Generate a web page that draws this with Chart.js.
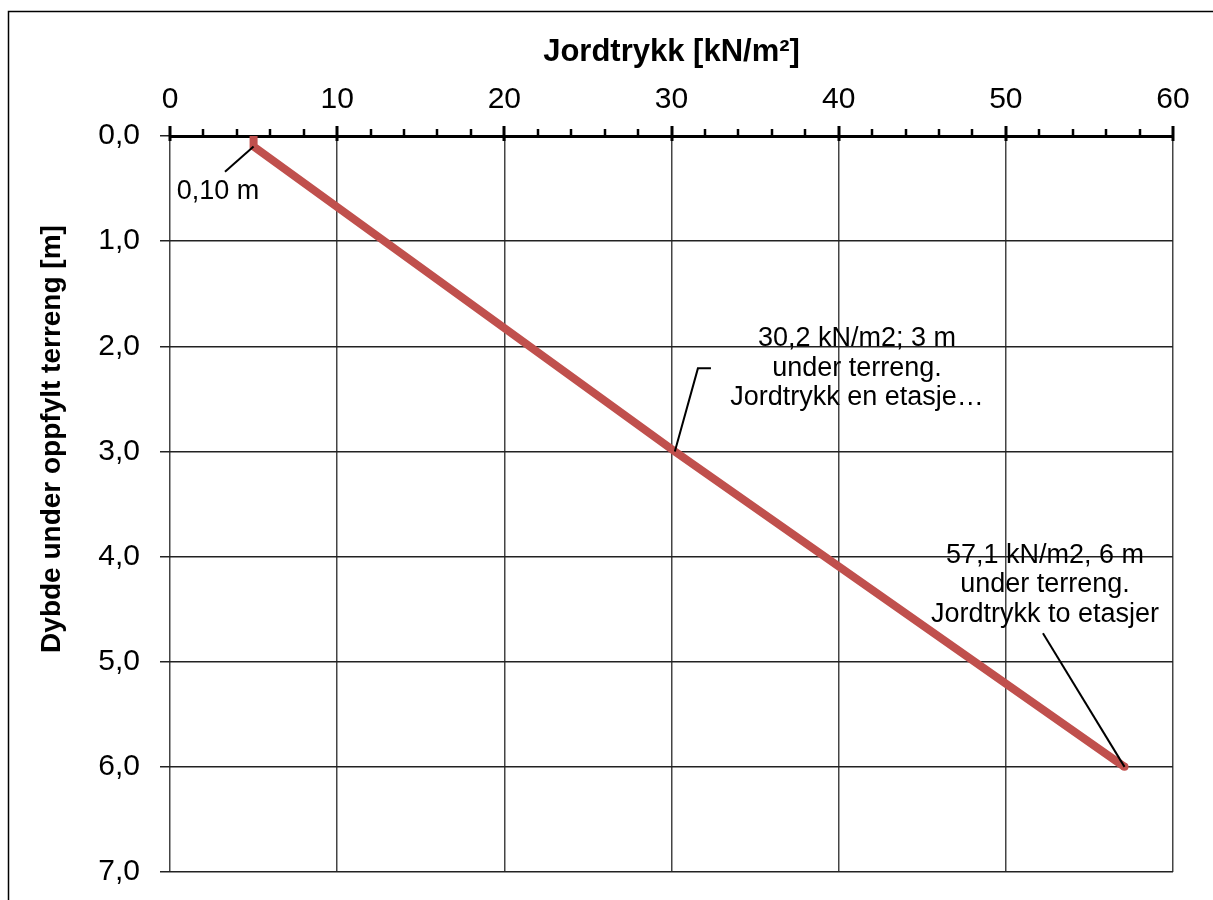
<!DOCTYPE html>
<html lang="no">
<head>
<meta charset="UTF-8">
<title>Jordtrykk</title>
<script src="https://cdn.jsdelivr.net/npm/chart.js"></script>
<style>
  html, body { margin: 0; padding: 0; background: #fff; }
  .wrap { position: relative; width: 1213px; height: 900px; }
</style>
</head>
<body>
<div class="wrap"><canvas id="c"></canvas></div>
<script>
// data
const depthM = [0, 0.1, 3, 6];
const pressureKN = [5, 5, 30.2, 57.1];
const xTicks = [0, 10, 20, 30, 40, 50, 60];
const yTicks = [0, 1, 2, 3, 4, 5, 6, 7];

// annotations: leader path from the line, text lines (data units)
const notes = [
  { lines: ['0,10 m'], tx: 2.87, ty: 0.53, path: [[5, 0.1], [3.29, 0.34]] },
  { lines: ['30,2 kN/m2; 3 m', 'under terreng.', 'Jordtrykk en etasje\u2026'], tx: 41.1, ty: 2.21,
    path: [[30.2, 3], [31.58, 2.21], [32.36, 2.21]] },
  { lines: ['57,1 kN/m2, 6 m', 'under terreng.', 'Jordtrykk to etasjer'], tx: 52.34, ty: 4.27,
    path: [[57.1, 6], [52.22, 4.73]] }
];

const FONT = '"Liberation Sans", Arial, sans-serif';

const extras = {
  id: 'extras',
  beforeDraw(chart) {
    const ctx = chart.ctx;
    ctx.save();
    ctx.strokeStyle = '#000';
    ctx.lineWidth = 1.5;
    ctx.strokeRect(8.5, 11.5, 1400, 1000);
    ctx.restore();
  },
  afterDraw(chart) {
    const ctx = chart.ctx;
    const xs = chart.scales.x, ys = chart.scales.y;
    const top = chart.chartArea.top;
    ctx.save();
    // tick marks on top axis
    ctx.strokeStyle = '#000';
    for (let v = xs.min; v <= xs.max; v += 2) {
      const px = Math.round(xs.getPixelForValue(v));
      const major = v % 10 === 0;
      ctx.lineWidth = major ? 3 : 2.5;
      ctx.beginPath();
      ctx.moveTo(px, top - (major ? 10 : 7));
      ctx.lineTo(px, top + (major ? 5 : 0));
      ctx.stroke();
    }
    // y title
    ctx.fillStyle = '#000';
    ctx.font = 'bold 28px ' + FONT;
    ctx.textAlign = 'center';
    ctx.textBaseline = 'middle';
    ctx.translate(52, 439);
    ctx.rotate(-Math.PI / 2);
    ctx.fillText('Dybde under oppfylt terreng [m]', 0, 0);
    ctx.restore();

    // annotations
    ctx.save();
    ctx.strokeStyle = '#000';
    ctx.lineWidth = 2;
    ctx.fillStyle = '#000';
    ctx.font = '27px ' + FONT;
    ctx.textAlign = 'center';
    ctx.textBaseline = 'middle';
    notes.forEach(n => {
      ctx.beginPath();
      n.path.forEach((p, i) => {
        const px = xs.getPixelForValue(p[0]), py = ys.getPixelForValue(p[1]);
        if (i === 0) ctx.moveTo(px, py); else ctx.lineTo(px, py);
      });
      ctx.stroke();
      const cx = xs.getPixelForValue(n.tx), cy = ys.getPixelForValue(n.ty);
      const lh = 29.5;
      const start = cy - (n.lines.length - 1) / 2 * lh;
      n.lines.forEach((t, i) => ctx.fillText(t, cx, start + i * lh));
    });
    ctx.restore();
  }
};

new Chart(document.getElementById('c').getContext('2d'), {
  type: 'scatter',
  data: {
    datasets: [{
      label: 'Jordtrykk',
      data: depthM.map((d, i) => ({ x: pressureKN[i], y: d })),
      showLine: true,
      borderColor: '#C0504D',
      backgroundColor: '#C0504D',
      borderWidth: 8,
      pointRadius: depthM.map((d, i) => i === depthM.length - 1 ? 4 : 0),
      pointBorderWidth: 0,
      pointHoverRadius: 0
    }]
  },
  options: {
    responsive: true,
    maintainAspectRatio: false,
    animation: false,
    layout: { padding: { left: 8, top: 0, right: 40, bottom: 28 } },
    plugins: { legend: { display: false }, tooltip: { enabled: false } },
    scales: {
      x: {
        type: 'linear',
        position: 'top',
        min: 0, max: 60,
        afterBuildTicks: s => { s.ticks = xTicks.map(v => ({ value: v })); },
        afterFit: s => { s.height = 136; s.paddingLeft = 0; s.paddingRight = 0; },
        grid: { color: '#444', lineWidth: 1.5, drawTicks: false },
        border: { display: true, color: '#000', width: 3 },
        ticks: { color: '#000', padding: 18, font: { family: FONT, size: 30 } },
        title: {
          display: true, text: 'Jordtrykk [kN/m\u00B2]', color: '#000',
          font: { family: FONT, size: 31, weight: 'bold' },
          padding: { top: 34, bottom: 0 }
        }
      },
      y: {
        type: 'linear',
        reverse: true,
        min: 0, max: 7,
        afterBuildTicks: s => { s.ticks = yTicks.map(v => ({ value: v })); },
        afterFit: s => { s.width = 162; s.paddingTop = 0; s.paddingBottom = 0; },
        grid: { color: '#222', lineWidth: 1.5, drawTicks: true, tickLength: 10 },
        border: { display: false },
        ticks: {
          color: '#000', padding: 20, font: { family: FONT, size: 30 },
          callback: v => v.toFixed(1).replace('.', ',')
        }
      }
    }
  },
  plugins: [extras]
});
</script>
</body>
</html>
